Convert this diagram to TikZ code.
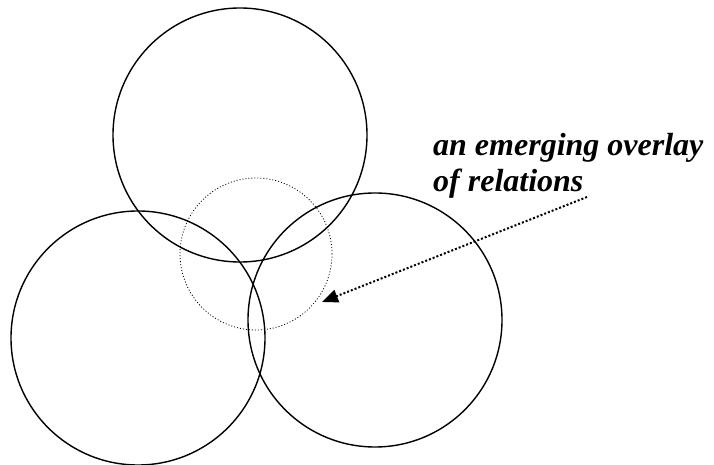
\documentclass[tikz,border=0pt]{standalone}
\usepackage{fontspec}
\setmainfont{Liberation Serif}[BoldItalicFont={Liberation Serif Bold Italic}]
\usetikzlibrary{arrows.meta}

\begin{document}
\begin{tikzpicture}[x=1pt, y=1pt, every node/.style={inner sep=0pt},
    ring/.style={draw, circle, line width=1.4pt, minimum size=254pt},
    overlay ring/.style={draw, circle, line width=0.8pt, dash pattern=on 1pt off 2pt, minimum size=152pt}]
    \useasboundingbox (0,0) rectangle (714,465);

    \node[ring] (top) at (240,330) {};
    \node[ring] (left) at (138,127) {};
    \node[ring] (right) at (375,145) {};
    \node[overlay ring] (mid) at (256,211) {};

    \node[anchor=north west, align=left, font=\fontsize{32}{36}\selectfont\bfseries\itshape] (label) at (433,332) {an emerging overlay\\of relations};

    \coordinate (from) at (587,268);
    \coordinate (to) at (322,163);
    \draw[line width=2pt, dash pattern=on 2pt off 2pt, -{Triangle[length=16pt, width=13pt]}] (from) -- (to);
\end{tikzpicture}
\end{document}
